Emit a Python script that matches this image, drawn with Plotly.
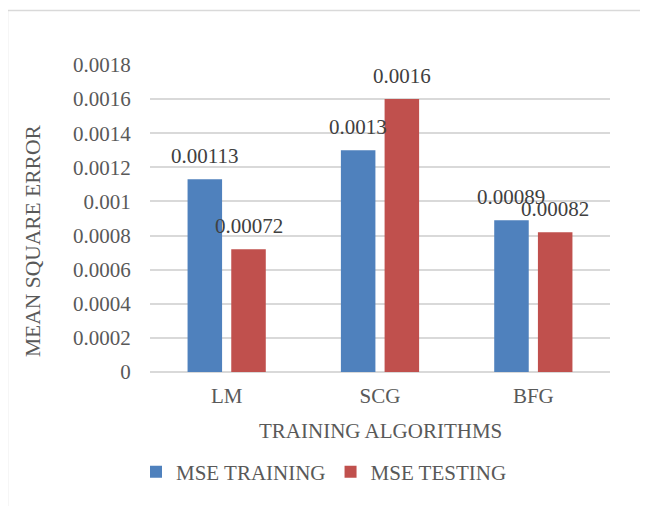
import plotly.graph_objects as go

categories = ["LM", "SCG", "BFG"]
mse_training = [0.00113, 0.0013, 0.00089]
mse_testing = [0.00072, 0.0016, 0.00082]
y_tickvals = [0, 0.0002, 0.0004, 0.0006, 0.0008, 0.001, 0.0012, 0.0014, 0.0016, 0.0018]
y_ticktext = ["0", "0.0002", "0.0004", "0.0006", "0.0008", "0.001", "0.0012", "0.0014", "0.0016", "0.0018"]

FONT = "Liberation Serif"
GREY = "#595959"
BLUE = "#4F81BD"
RED = "#C0504D"

# page has an 8px body margin; target coordinates are in window pixels
OFF = 8
W, H = 648 - OFF, 506 - OFF
ml, mr, mt, mb = 150 - OFF, 38, 65 - OFF, 134
pw, ph = W - ml - mr, H - mt - mb
Y0 = 372  # window y of the plot bottom


def px_x(x):
    return (x - 150) / pw


def px_y(y):
    return (Y0 - y) / ph


fig = go.Figure()
fig.add_trace(go.Bar(name="MSE TRAINING", x=categories, y=mse_training,
                     marker=dict(color=BLUE, line=dict(width=0))))
fig.add_trace(go.Bar(name="MSE TESTING", x=categories, y=mse_testing,
                     marker=dict(color=RED, line=dict(width=0))))

bargap = 0.43
slot = (1 - bargap) * pw / len(categories) / 2

annotations = []
for vals, sh in ((mse_training, -slot / 2), (mse_testing, slot / 2)):
    for c, v in zip(categories, vals):
        annotations.append(dict(x=c, y=v, xref="x", yref="y", text=str(v),
                                showarrow=False, xshift=sh, yshift=23,
                                yanchor="middle",
                                font=dict(family=FONT, size=21, color="#404040")))

annotations.append(dict(text="MEAN SQUARE ERROR", xref="paper", yref="paper",
                        x=px_x(33), y=px_y(241), textangle=-90,
                        showarrow=False, xanchor="center", yanchor="middle",
                        font=dict(family=FONT, size=21.5, color=GREY)))
annotations.append(dict(text="TRAINING ALGORITHMS", xref="paper", yref="paper",
                        x=px_x(380), y=px_y(431),
                        showarrow=False, xanchor="center", yanchor="middle",
                        font=dict(family=FONT, size=21, color=GREY)))

x0 = px_x(7.5)
y0 = px_y(10.5)
x1 = px_x(660)
y1 = px_y(520)
shapes = [
    dict(type="line", xref="paper", yref="paper", x0=x0, x1=x1, y0=y0, y1=y0,
         line=dict(color="#D9D9D9", width=1.5)),
    dict(type="line", xref="paper", yref="paper", x0=x0, x1=x0, y0=y0, y1=y1,
         line=dict(color="#D9D9D9", width=1.5)),
]

fig.update_layout(
    width=W, height=H,
    margin=dict(l=ml, r=mr, t=mt, b=mb),
    paper_bgcolor="white", plot_bgcolor="white",
    barmode="group", bargap=bargap, bargroupgap=0.21,
    font=dict(family=FONT, size=21, color=GREY),
    showlegend=True,
    legend=dict(orientation="h", x=px_x(324), xanchor="center",
                y=px_y(472), yanchor="middle",
                font=dict(family=FONT, size=21, color=GREY),
                itemwidth=30, traceorder="normal"),
    annotations=annotations,
    shapes=shapes,
)
fig.update_xaxes(showgrid=False, showline=False, ticks="outside", ticklen=5,
                 tickcolor="rgba(0,0,0,0)", tickfont=dict(family=FONT, size=21, color=GREY))
fig.update_yaxes(range=[0, 0.0018], tickvals=y_tickvals, ticktext=y_ticktext,
                 showgrid=True, gridcolor="#D9D9D9", gridwidth=1.5,
                 zeroline=True, zerolinecolor="#D9D9D9", zerolinewidth=1.5,
                 showline=False, ticks="outside", ticklen=14, tickcolor="rgba(0,0,0,0)",
                 tickfont=dict(family=FONT, size=21, color=GREY))

fig.write_html("out.html")
